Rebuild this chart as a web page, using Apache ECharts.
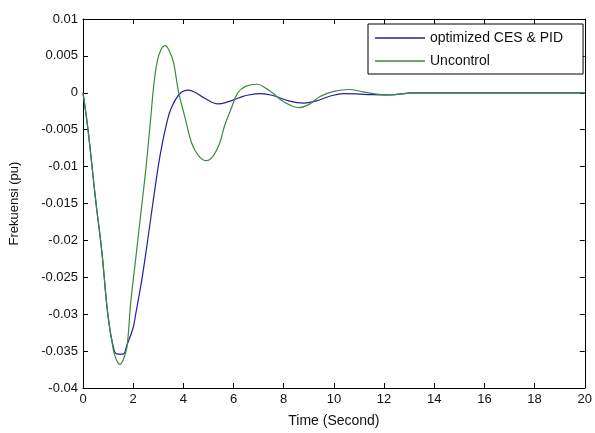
<!DOCTYPE html>
<html>
<head>
<meta charset="utf-8">
<script src="https://cdn.jsdelivr.net/npm/echarts@6/dist/echarts.min.js"></script>
<style>
  html, body { margin: 0; padding: 0; background: #fff; }
  #chart { width: 595px; height: 433px; }
</style>
</head>
<body>
<div id="chart"></div>
<script>
// series names
var seriesNames = ["optimized CES & PID", "Uncontrol"];

// optimized CES & PID  (time, frequency deviation)
var pidTime = [0, 0.2, 0.5, 0.75, 1.0, 1.25, 1.4, 1.6, 1.75, 2.0, 2.1, 2.36, 2.61, 2.8, 3.07, 3.35, 3.54, 3.87, 4.2, 4.5, 4.85, 5.38, 5.8, 6.2, 6.6, 7.1, 7.6, 8.2, 8.8, 9.3, 9.8, 10.4, 11.2, 12.2, 13.2, 20];
var pidFreq = [0, -0.005, -0.0144, -0.0215, -0.0303, -0.035, -0.0354, -0.0354, -0.0342, -0.0318, -0.030, -0.025, -0.0192, -0.0146, -0.0085, -0.0039, -0.0019, -0.0001, 0.00036, 0.0, -0.00075, -0.0015, -0.0012, -0.0007, -0.0003, -0.0001, -0.0004, -0.0011, -0.0014, -0.0011, -0.0005, -0.0001, -0.0002, -0.0003, 0, 0];

// Uncontrol
var uncTime = [0, 0.2, 0.5, 0.75, 1.0, 1.22, 1.35, 1.47, 1.6, 1.75, 1.9, 2.1, 2.3, 2.5, 2.7, 2.82, 2.95, 3.1, 3.28, 3.45, 3.61, 3.81, 4.07, 4.33, 4.6, 4.92, 5.2, 5.45, 5.64, 5.9, 6.17, 6.5, 6.95, 7.3, 7.55, 8.0, 8.6, 9.0, 9.45, 10.0, 10.6, 11.2, 12.2, 13.2, 20];
var uncFreq = [0, -0.005, -0.0144, -0.0215, -0.0303, -0.035, -0.0363, -0.0368, -0.0362, -0.0345, -0.0285, -0.0225, -0.0165, -0.0105, -0.0034, 0.001, 0.0041, 0.0058, 0.0064, 0.0056, 0.0041, 0.0001, -0.0034, -0.0068, -0.0085, -0.0092, -0.0085, -0.0068, -0.0045, -0.0022, 0, 0.0009, 0.00116, 0.0006, 0, -0.0012, -0.002, -0.0016, -0.0005, 0.0002, 0.00045, 0.0001, -0.0003, 0, 0];

// axes
var xMin = 0, xMax = 20, xStep = 2;
var yMin = -0.04, yMax = 0.01, yStep = 0.005;

function pairs(t, v) {
  var out = [];
  for (var i = 0; i < t.length; i++) out.push([t[i], v[i]]);
  return out;
}

var chart = echarts.init(document.getElementById("chart"));
var font = "Liberation Sans, Arial, sans-serif";

// matlab style box: ticks inside on all four sides
function boxAxis(extra) {
  return Object.assign({
    axisLine: { show: true, onZero: false, lineStyle: { color: "#000", width: 1 } },
    axisTick: { show: true, inside: true, length: 5, lineStyle: { color: "#000" } },
    splitLine: { show: false }
  }, extra);
}

chart.setOption({
  animation: false,
  grid: { left: 80, right: 8, top: 19, bottom: 41 },
  legend: {
    data: [
      { name: seriesNames[0], icon: "rect" },
      { name: seriesNames[1], icon: "rect" }
    ],
    orient: "vertical",
    left: 368,
    top: 24,
    padding: [7, 20, 6, 7],
    itemGap: 9,
    itemWidth: 50,
    itemHeight: 1.5,
    borderColor: "#000",
    borderWidth: 1,
    borderRadius: 0,
    backgroundColor: "#fff",
    textStyle: { fontFamily: font, fontSize: 14, color: "#111" }
  },
  xAxis: [
    boxAxis({
      type: "value", min: xMin, max: xMax, interval: xStep,
      name: "Time (Second)", nameLocation: "middle", nameGap: 26,
      nameTextStyle: { fontFamily: font, fontSize: 14, color: "#111" },
      axisLabel: { fontFamily: font, fontSize: 13, color: "#111", margin: 5 }
    }),
    boxAxis({
      type: "value", min: xMin, max: xMax, interval: xStep, position: "top",
      axisLabel: { show: false }
    })
  ],
  yAxis: [
    boxAxis({
      type: "value", min: yMin, max: yMax, interval: yStep,
      name: "Frekuensi (pu)", nameLocation: "middle", nameGap: 62, nameRotate: 90,
      nameTextStyle: { fontFamily: font, fontSize: 13, color: "#111" },
      axisLabel: {
        fontFamily: font, fontSize: 13, color: "#111", margin: 5,
        formatter: function (v) { return String(parseFloat(v.toFixed(3))); }
      }
    }),
    boxAxis({
      type: "value", min: yMin, max: yMax, interval: yStep, position: "right",
      axisLabel: { show: false }
    })
  ],
  series: [
    {
      name: seriesNames[0], type: "line", smooth: 0.4, symbol: "none",
      xAxisIndex: 0, yAxisIndex: 0,
      color: "#22229a",
      lineStyle: { width: 1.2, color: "#22229a" },
      data: pairs(pidTime, pidFreq)
    },
    {
      name: seriesNames[1], type: "line", smooth: 0.4, symbol: "none",
      xAxisIndex: 0, yAxisIndex: 0,
      color: "#3d8a3d",
      lineStyle: { width: 1.2, color: "#3d8a3d" },
      data: pairs(uncTime, uncFreq)
    }
  ]
});
</script>
</body>
</html>
